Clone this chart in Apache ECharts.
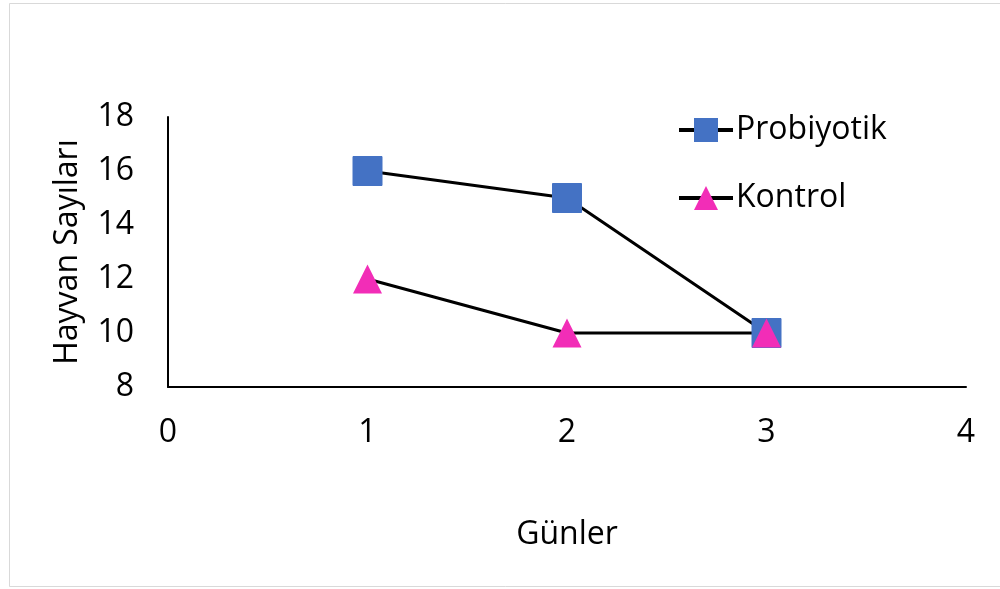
<!DOCTYPE html>
<html><head><meta charset="utf-8">
<script src="https://cdn.jsdelivr.net/npm/echarts@6/dist/echarts.min.js"></script>
<style>html,body{margin:0;padding:0;background:#fff}#c{width:1000px;height:589px}</style>
</head><body><div id="c"></div>
<script>
const days = [1, 2, 3];
const probiyotik = [16, 15, 10];
const kontrol = [12, 10, 10];
const seriesNames = ['Probiyotik', 'Kontrol'];
const xTitle = 'Günler';
const yTitle = 'Hayvan Sayıları';

const font = "'Open Sans', 'Liberation Sans', sans-serif";
const chart = echarts.init(document.getElementById('c'), null, {renderer: 'canvas'});
chart.setOption({
  backgroundColor: '#fff',
  animation: false,
  graphic: [{type: 'rect', shape: {x: 9.5, y: 3.5, width: 1000, height: 583}, style: {fill: 'none', stroke: '#d9d9d9', lineWidth: 1}}],
  grid: {left: 168, right: 34, top: 117, bottom: 202},
  legend: {
    orient: 'vertical', left: 672, top: 109, itemWidth: 54, itemHeight: 30, itemGap: 36,
    lineStyle: {width: 4, color: '#000'},
    textStyle: {fontFamily: font, fontSize: 32, color: '#000', padding: [0, 0, 0, -2]},
    data: seriesNames
  },
  xAxis: {
    type: 'value', min: 0, max: 4, interval: 1,
    name: xTitle, nameLocation: 'middle', nameGap: 132,
    nameTextStyle: {fontFamily: font, fontSize: 32, color: '#000'},
    axisLine: {show: true, onZero: false, lineStyle: {color: '#000', width: 2}},
    axisTick: {show: false}, splitLine: {show: false},
    axisLabel: {fontFamily: font, fontSize: 32, color: '#000', margin: 30}
  },
  yAxis: {
    type: 'value', min: 8, max: 18, interval: 2,
    name: yTitle, nameLocation: 'middle', nameGap: 84,
    nameTextStyle: {fontFamily: font, fontSize: 32, color: '#000'},
    axisLine: {show: true, onZero: false, lineStyle: {color: '#000', width: 2}},
    axisTick: {show: false}, splitLine: {show: false},
    axisLabel: {fontFamily: font, fontSize: 32, color: '#000', margin: 34}
  },
  series: [
    {name: seriesNames[0], type: 'line', data: days.map((d, i) => [d, probiyotik[i]]),
     symbol: 'rect', symbolSize: 29, itemStyle: {color: '#4472C4', borderColor: '#4472C4'},
     lineStyle: {color: '#000', width: 3}},
    {name: seriesNames[1], type: 'line', data: days.map((d, i) => [d, kontrol[i]]),
     symbol: 'triangle', symbolSize: 29, itemStyle: {color: '#F22DB7'},
     lineStyle: {color: '#000', width: 3}}
  ]
});
</script></body></html>
